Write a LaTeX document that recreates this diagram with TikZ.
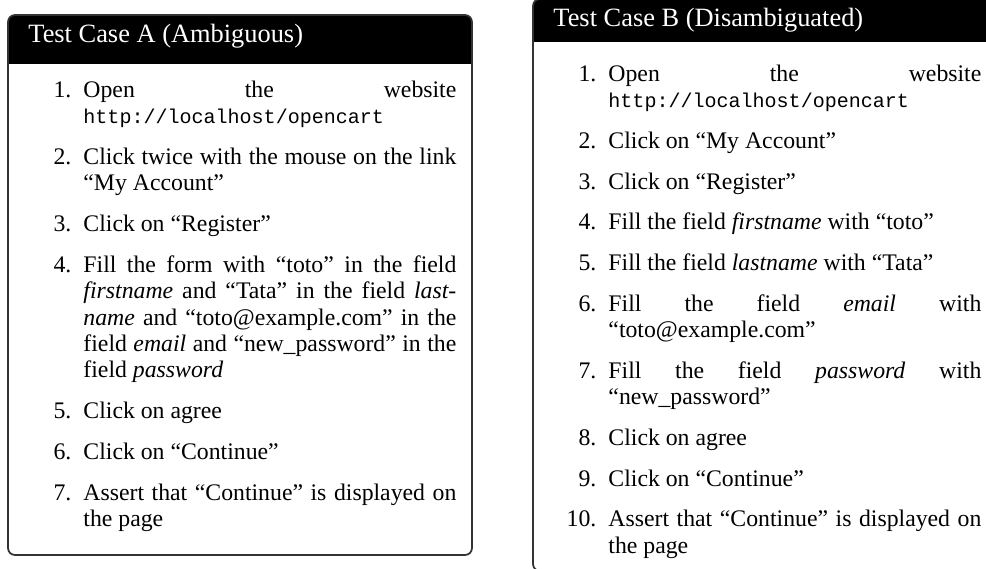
\documentclass[tikz,border=0pt]{standalone}
\usepackage{fontspec}
\setmainfont{Liberation Serif}
\setmonofont{Liberation Mono}[Scale=0.843]
\usepackage{enumitem}
\setlist[enumerate]{leftmargin=25pt,labelsep=5.5pt,itemsep=6.5pt,parsep=0pt,topsep=0pt,partopsep=0pt}
\tikzset{
  x=0.4545pt, y=-0.4545pt,
  frameline/.style={draw=black!80, line width=0.8pt, rounded corners=3.2pt},
  barfill/.style={fill=black, rounded corners=3.2pt},
  titletext/.style={anchor=base west, inner sep=0pt, text=white, font=\fontsize{12}{14}\selectfont},
  listbox/.style={anchor=base west, inner sep=0pt, text width=194.5pt, align=justify, font=\fontsize{10.8}{12}\selectfont},
}
\begin{document}
\begin{tikzpicture}
\useasboundingbox (0,0) rectangle (986,569);
\clip (0,0) rectangle (986,569);
% Box A
\begin{scope}
  \clip (0,0) rectangle (480,64);
  \path[barfill] (8,15) rectangle (472,555);
\end{scope}
\draw[frameline] (8,15) rectangle (472,555);
\node[titletext] (titleA) at (28,43) {Test Case A (Ambiguous)};
\node[listbox] (listA) at (28,71) {%
\begin{enumerate}
\item Open the website \texttt{http://localhost/opencart}
\item Click twice with the mouse on the link ``My Account''
\item Click on ``Register''
\item Fill the form with ``toto'' in the field \textit{firstname} and ``Tata'' in the field \textit{last\-name} and ``toto@example.com'' in the field \textit{email} and ``new\_password'' in the field \textit{password}
\item Click on agree
\item Click on ``Continue''
\item Assert that ``Continue'' is displayed on the page
\end{enumerate}};
% Box B
\begin{scope}
  \clip (500,-20) rectangle (1000,42);
  \path[barfill] (533,-1) rectangle (997,571);
\end{scope}
\draw[frameline] (533,-1) rectangle (997,571);
\node[titletext] (titleB) at (553,27) {Test Case B (Disambiguated)};
\node[listbox] (listB) at (553,55) {%
\begin{enumerate}
\item Open the website \texttt{http://localhost/opencart}
\item Click on ``My Account''
\item Click on ``Register''
\item Fill the field \textit{firstname} with ``toto''
\item Fill the field \textit{lastname} with ``Tata''
\item Fill the field \textit{email} with ``toto@example.com''
\item Fill the field \textit{password} with ``new\_password''
\item Click on agree
\item Click on ``Continue''
\item Assert that ``Continue'' is displayed on the page
\end{enumerate}};
\end{tikzpicture}
\end{document}
